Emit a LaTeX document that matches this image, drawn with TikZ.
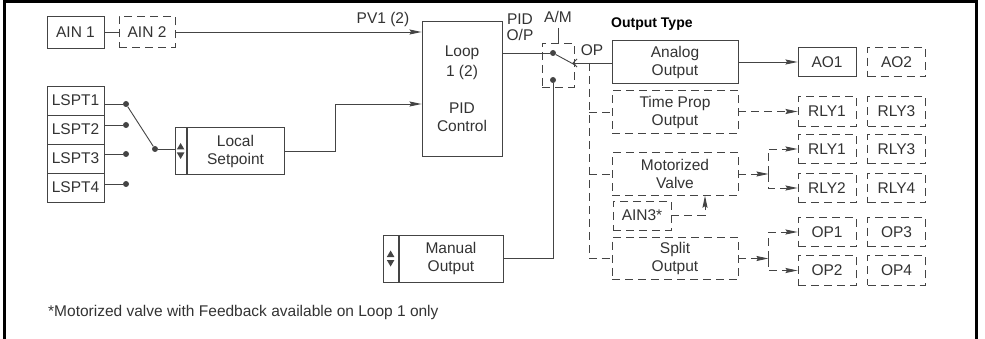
\documentclass[tikz,border=0pt]{standalone}
\usepackage{fontspec}
\setmainfont{Liberation Sans}
\usetikzlibrary{arrows.meta, calc}

\definecolor{ink}{HTML}{333333}
\definecolor{wire}{HTML}{444444}

\begin{document}
\begin{tikzpicture}[x=1pt, y=-1pt, font=\fontsize{15.5}{18}\selectfont, text=ink,
  >={Stealth[length=12pt, width=5pt, inset=1.5pt]},
  box/.style={draw=wire, line width=0.9pt, inner sep=0pt, align=center},
  dbox/.style={box, dash pattern=on 8pt off 5pt},
  ln/.style={draw=wire, line width=0.9pt},
  dln/.style={ln, dash pattern=on 8pt off 5pt},
  dot/.style={circle, fill=wire, inner sep=0pt, minimum size=6pt},
  lab/.style={inner sep=0pt, align=center}]
\useasboundingbox (0,0) rectangle (985,339);
\draw[line width=3pt] (4.7,339) -- (4.7,1.5) -- (976.3,1.5) -- (976.3,339);

% inputs
\node[box, minimum width=57pt, minimum height=32pt] (ain1) at (75.5,32) {AIN 1};
\node[dbox, minimum width=56pt, minimum height=31pt] (ain2) at (147,32) {AIN 2};
\node[box, minimum width=80pt, minimum height=135pt] (loop) at (462,88.5)
  {Loop\\[2pt]1 (2)\\[19pt]PID\\Control};
\node[lab] (pv) at (383,19) {PV1 (2)};
\draw[ln] (ain1) -- (ain2);
\draw[ln, ->] (ain2.east) -- (ain2.east -| loop.west);

\foreach \i/\y/\d in {1/100.5/104, 2/129.5/125, 3/158.5/154, 4/187.5/184}{
  \node[box, minimum width=57pt, minimum height=29pt] (lspt\i) at (75.5,\y) {LSPT\i};
  \node[dot] (d\i) at (126,\d) {};
  \draw[ln] (lspt\i.east |- d\i) -- (d\i);
}
\node[dot] (piv) at (155,149) {};
\draw[ln] (d1) -- (piv);

% setpoint and manual
\node[box, minimum width=97pt, minimum height=47pt] (lsp) at (235.5,151) {Local\\Setpoint};
\node[box, minimum width=11pt, minimum height=47pt, anchor=east] (lspud) at (lsp.west) {};
\node[box, minimum width=104pt, minimum height=47pt] (man) at (451,258.5) {Manual\\Output};
\node[box, minimum width=15pt, minimum height=47pt, anchor=east] (manud) at (man.west) {};
\foreach \s in {lspud, manud}{
  \fill[wire] ($(\s.center)+(0,-8)$) -- ++(3.8,6.5) -- ++(-7.6,0) -- cycle;
  \fill[wire] ($(\s.center)+(0,8)$) -- ++(3.8,-6.5) -- ++(-7.6,0) -- cycle;
}
\draw[ln] (piv) -- (piv -| lspud.west);
\draw[ln, ->] (lsp.east) -- ++(51,0) |- ($(loop.west)+(0,15.5)$);

% A/M switch
\node[dbox, minimum width=32pt, minimum height=44pt] (sw) at (558,65) {};
\node[dot] (su) at (553,53) {};
\node[dot] (sd) at (553,80) {};
\coordinate (ct) at (573,63);
\node[lab] (pidop) at (520,27) {PID\\[-2pt]O/P};
\node[lab] (am) at (558,17) {A/M};
\node[lab] (op) at (592,50) {OP};
\draw[ln] (loop.east |- su) -- (su);
\draw[ln] (su) -- ($(ct)+(3,2.5)$);
\draw[ln] ($(ct)+(4,-4)$) -- (ct) -- ($(ct)+(4,4)$);
\draw[ln, shorten <=5pt] (am.south) -- (sw.north);
\draw[ln] (man.east) -| (sd);

% output types
\node[lab, anchor=west, text=black, font=\fontsize{14}{16}\selectfont\bfseries] (otype) at (611,24) {Output Type};
\foreach \n/\y/\s/\t in {ana/62/box/{Analog\\Output}, tpo/112/dbox/{Time Prop\\Output},
    mv/174/dbox/{Motorized\\Valve}, spl/258.5/dbox/{Split\\Output}}
  \node[\s, minimum width=126pt, minimum height=42.5pt] (\n) at (675,\y) {\t};
\node[dbox, minimum width=58pt, minimum height=29pt] (ain3) at (642,215.5) {AIN3*};
\draw[ln] (ct) -- (ct -| ana.west);
\coordinate (bt) at (589,63);
\draw[dln] (bt) |- (spl.west);
\foreach \n in {tpo, mv}
  \draw[dln] (bt |- \n.west) -- (\n.west);
\draw[dln, ->] (ain3.east) -| ($(mv.south)+(30,0)$);

% output channels
\node[box, minimum width=58pt, minimum height=29.5pt] (ao1) at (827,62) {AO1};
\foreach \x/\y/\n/\t in {896.5/62/ao2/AO2, 827/111.5/tr1/RLY1, 896.5/111.5/tr3/RLY3,
    827/149/mr1/RLY1, 896.5/149/mr3/RLY3, 827/188/mr2/RLY2, 896.5/188/mr4/RLY4,
    827/232/op1/OP1, 896.5/232/op3/OP3, 827/270.5/op2/OP2, 896.5/270.5/op4/OP4}
  \node[dbox, minimum width=58pt, minimum height=29.5pt] (\n) at (\x,\y) {\t};
\draw[ln, ->] (ana.east) -- (ana.east -| ao1.west);
\draw[dln, ->] (tr1.west -| tpo.east) -- (tr1.west);
\foreach \src/\a/\b in {mv/mr1/mr2, spl/op1/op2}{
  \coordinate (f) at ($(\src.east)+(30,0)$);
  \draw[dln, ->] (\src.east) -- (f);
  \draw[dln, ->] (f) |- (\a.west);
  \draw[dln, ->] (f) |- (\b.west);
}

\node[lab, anchor=west] (note) at (48,312) {*Motorized valve with Feedback available on Loop 1 only};
\end{tikzpicture}
\end{document}
